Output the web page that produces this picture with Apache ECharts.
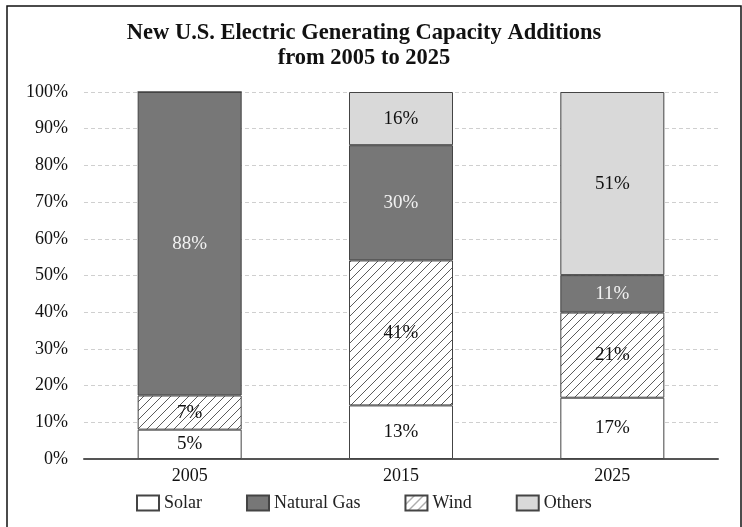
<!DOCTYPE html>
<html>
<head>
<meta charset="utf-8">
<script src="https://cdn.jsdelivr.net/npm/echarts@6/dist/echarts.min.js"></script>
<style>html,body{margin:0;padding:0;background:#fff;}#c{width:742px;height:527px;}</style>
</head>
<body>
<div id="c"></div>
<script>
var categories = ['2005', '2015', '2025'];
var yTicks = [0, 10, 20, 30, 40, 50, 60, 70, 80, 90, 100];
// segment heights as drawn (percent of bar)
var solar  = [8.0, 14.6, 16.7];
var wind   = [9.3, 39.5, 23.2];
var gas    = [82.7, 31.4, 10.2];
var others = [0, 14.5, 49.9];
// printed labels
var solarLabels  = ['5%', '13%', '17%'];
var windLabels   = ['7%', '41%', '21%'];
var gasLabels    = ['88%', '30%', '11%'];
var othersLabels = ['', '16%', '51%'];

var FONT = '"Liberation Serif", "Times New Roman", serif';

function hatch() {
  var s = 9;
  var cv = document.createElement('canvas');
  cv.width = s; cv.height = s;
  var g = cv.getContext('2d');
  g.fillStyle = '#ffffff';
  g.fillRect(0, 0, s, s);
  g.strokeStyle = '#4a4a4a';
  g.lineWidth = 0.9;
  g.beginPath();
  g.moveTo(-1, s + 1); g.lineTo(s + 1, -1);
  g.moveTo(-1, 1); g.lineTo(1, -1);
  g.moveTo(s - 1, s + 1); g.lineTo(s + 1, s - 1);
  g.stroke();
  return cv;
}

function mk(name, data, labels, fill, labelColor) {
  return {
    name: name,
    type: 'bar',
    stack: 'total',
    barWidth: 104,
    data: data,
    itemStyle: { color: fill, borderColor: '#444', borderWidth: 1 },
    label: {
      show: true,
      position: 'inside',
      fontFamily: FONT,
      fontSize: 19,
      color: labelColor,
      formatter: function (p) { return labels[p.dataIndex]; }
    },
    emphasis: { disabled: true }
  };
}

var chart = echarts.init(document.getElementById('c'), null, { renderer: 'canvas' });
chart.setOption({
  animation: false,
  backgroundColor: '#fff',
  title: {
    text: 'New U.S. Electric Generating Capacity Additions\nfrom 2005 to 2025',
    left: 359,
    top: 16,
    textAlign: 'center',
    textStyle: { fontFamily: FONT, fontWeight: 'bold', fontSize: 22.5, lineHeight: 25, color: '#111' }
  },
  legend: {
    data: ['Solar', 'Natural Gas', 'Wind', 'Others'],
    left: 131,
    top: 489,
    icon: 'rect',
    itemWidth: 22,
    itemHeight: 15,
    itemGap: 44,
    textStyle: { fontFamily: FONT, fontSize: 18, color: '#222' }
  },
  grid: { left: 84, right: 24, top: 92, bottom: 68 },
  xAxis: {
    type: 'category',
    data: categories,
    axisTick: { show: false },
    axisLine: { lineStyle: { color: '#555', width: 2 } },
    axisLabel: { fontFamily: FONT, fontSize: 18, color: '#111', margin: 8 }
  },
  yAxis: {
    type: 'value',
    min: yTicks[0],
    max: yTicks[yTicks.length - 1],
    interval: yTicks[1] - yTicks[0],
    axisLine: { show: false },
    axisTick: { show: false },
    axisLabel: { fontFamily: FONT, fontSize: 18, color: '#111', margin: 16, formatter: '{value}%' },
    splitLine: { lineStyle: { color: '#cfcfcf', type: [4, 3], width: 1 } }
  },
  graphic: [{
    type: 'rect',
    shape: { x: 7, y: 6, width: 734, height: 540 },
    style: { fill: 'none', stroke: '#111', lineWidth: 1.5 },
    silent: true
  }],
  series: [
    mk('Solar', solar, solarLabels, '#ffffff', '#111'),
    mk('Wind', wind, windLabels, { image: hatch(), repeat: 'repeat' }, '#111'),
    mk('Natural Gas', gas, gasLabels, '#777777', '#f2f2f2'),
    mk('Others', others, othersLabels, '#d9d9d9', '#111')
  ]
});
</script>
</body>
</html>
